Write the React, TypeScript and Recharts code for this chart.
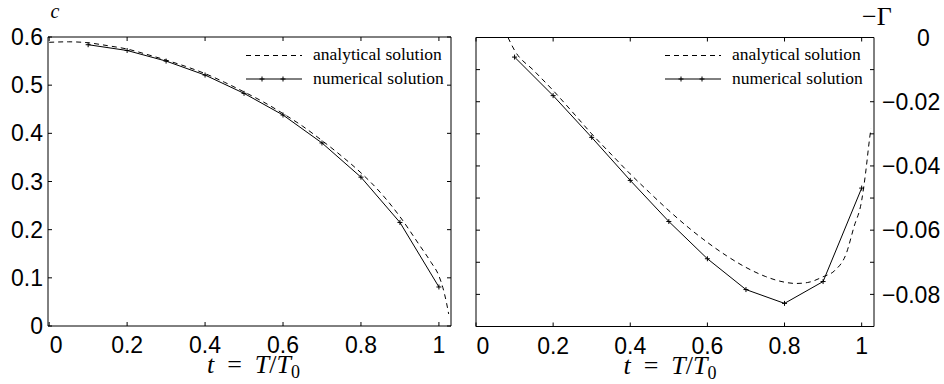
import { LineChart, Line, XAxis, YAxis, Legend, Label } from 'recharts';

// concentration c(t): numerical samples and the analytical curve
const tNum = [0.1, 0.2, 0.3, 0.4, 0.5, 0.6, 0.7, 0.8, 0.9, 1.0];
const cNum = [0.584, 0.572, 0.55, 0.521, 0.483, 0.438, 0.38, 0.309, 0.215, 0.081];
const tAnaC = [0, 0.05, 0.1, 0.15, 0.2, 0.25, 0.3, 0.35, 0.4, 0.45, 0.5, 0.55, 0.6, 0.65, 0.7, 0.75, 0.8, 0.85, 0.9, 0.95, 0.98, 1.0, 1.01, 1.02, 1.025];
const cAna = [0.589, 0.59, 0.588, 0.582, 0.575, 0.564, 0.552, 0.539, 0.524, 0.506, 0.486, 0.465, 0.441, 0.415, 0.385, 0.353, 0.318, 0.277, 0.227, 0.168, 0.132, 0.104, 0.08, 0.046, 0.025];

// -Gamma(t): numerical samples and the analytical curve
const gNum = [-0.0061, -0.0181, -0.0311, -0.0445, -0.0573, -0.0689, -0.0785, -0.0828, -0.076, -0.0469];
const tAnaG = [0.083, 0.1, 0.15, 0.2, 0.25, 0.3, 0.35, 0.4, 0.45, 0.5, 0.55, 0.6, 0.65, 0.7, 0.75, 0.8, 0.83, 0.86, 0.9, 0.93, 0.96, 0.98, 1.0, 1.01, 1.02, 1.024];
const gAna = [0, -0.004, -0.0103, -0.0165, -0.0232, -0.03, -0.0363, -0.0425, -0.0483, -0.0539, -0.0591, -0.0638, -0.068, -0.0716, -0.0744, -0.0762, -0.0766, -0.0763, -0.0745, -0.0726, -0.0673, -0.059, -0.0508, -0.0424, -0.032, -0.0284];

const tTicks = [0, 0.2, 0.4, 0.6, 0.8, 1];
const cTicks = [0, 0.1, 0.2, 0.3, 0.4, 0.5, 0.6];
const gTicks = [0, -0.01, -0.02, -0.03, -0.04, -0.05, -0.06, -0.07, -0.08, -0.09];

const INK = '#000';
const SANS = '"Liberation Sans", Arial, sans-serif';
const SERIF = '"Liberation Serif", "Times New Roman", serif';
const TICK_FONT = 23;

const zip = (xs: number[], ys: number[]) => xs.map((t, i) => ({ t, v: ys[i] }));
const fmt = (v: number) => String(v).replace('-', '\u2212');
const NoLabel = () => <g />;

function BottomTick({ x, y, payload }: any) {
  const v = payload.value;
  return (
    <text x={x + (v === 0 ? 7 : 0)} y={y} dy="0.71em" textAnchor="middle" fontFamily={SANS} fontSize={TICK_FONT} fill={INK}>
      {fmt(v)}
    </text>
  );
}

function LeftTick({ x, y, payload }: any) {
  return (
    <text x={x} y={y} dy="0.355em" textAnchor="end" fontFamily={SANS} fontSize={TICK_FONT} fill={INK}>
      {fmt(payload.value)}
    </text>
  );
}

// right-hand labels only every 0.02, the zero label sits further in
function RightTick({ x, y, payload }: any) {
  const v = payload.value;
  if (Math.round(Math.abs(v) * 100) % 2 !== 0) return <g />;
  return (
    <text x={x + (v === 0 ? 35 : 0)} y={y} dy="0.355em" textAnchor="start" fontFamily={SANS} fontSize={TICK_FONT} fill={INK}>
      {fmt(v)}
    </text>
  );
}

// "+" marker used by the numerical series
function Plus(props: any) {
  const { cx, cy, index } = props;
  return <path key={`p${index}`} d={`M${cx - 2.5},${cy}h5M${cx},${cy - 2.5}v5`} stroke={INK} strokeWidth={1} fill="none" />;
}

function Key() {
  return (
    <svg width={200} height={48} style={{ display: 'block', overflow: 'visible' }}>
      <line x1={0} y1={10.5} x2={56} y2={10.5} stroke={INK} strokeWidth={1} strokeDasharray="5 4" />
      <text x={67} y={15} fontFamily={SERIF} fontSize={17.5} fill={INK}>analytical solution</text>
      <line x1={0} y1={34} x2={56} y2={34} stroke={INK} strokeWidth={1} />
      <path d="M13.5,34h5M16,31.5v5M34.5,34h5M37,31.5v5" stroke={INK} strokeWidth={1} />
      <text x={67} y={38.5} fontFamily={SERIF} fontSize={17.5} fill={INK}>numerical solution</text>
    </svg>
  );
}

function TimeTitle({ viewBox, dx }: any) {
  const cx = viewBox.x + viewBox.width / 2 + dx;
  const by = viewBox.y + 47;
  return (
    <text x={cx} y={by} textAnchor="middle" fontFamily={SERIF} fontSize={26} fill={INK}>
      <tspan fontStyle="italic">t</tspan>
      <tspan>{'\u2002=\u2002'}</tspan>
      <tspan fontStyle="italic">T</tspan>
      <tspan>/</tspan>
      <tspan fontStyle="italic">T</tspan>
      <tspan fontSize={18} dy={5}>0</tspan>
    </text>
  );
}

const frameAxis = { stroke: INK, strokeWidth: 1 };

// each axis is 1px thick, so the margins sit 1px inside the plot box
function Panel({ left, width, margin, xDomain, yDomain, yTicks, ana, num, yRight, titleDx, legendLeft }: any) {
  return (
    <div style={{ position: 'absolute', left, top: 0 }}>
      <LineChart width={width} height={384} margin={margin}>
        <XAxis xAxisId="b" type="number" dataKey="t" domain={xDomain} allowDataOverflow
          ticks={tTicks} interval={0} height={1} tickSize={-4} tickMargin={15} axisLine={frameAxis} tickLine={frameAxis} tick={BottomTick}>
          <Label content={(p: any) => <TimeTitle {...p} dx={titleDx} />} />
        </XAxis>
        <XAxis xAxisId="t" orientation="top" type="number" dataKey="t" domain={xDomain} allowDataOverflow
          ticks={tTicks} interval={0} height={1} tickSize={-4} axisLine={frameAxis} tickLine={frameAxis} tick={NoLabel} />
        <YAxis yAxisId="l" type="number" domain={yDomain} allowDataOverflow ticks={yTicks} interval={0} width={1}
          tickSize={-4} tickMargin={9} axisLine={frameAxis} tickLine={frameAxis} tick={yRight ? NoLabel : LeftTick}>
          {!yRight && (
            <Label content={({ viewBox }: any) => (
              <text x={viewBox.x + 8} y={viewBox.y - 19} textAnchor="middle" fontFamily={SERIF} fontStyle="italic" fontSize={20} fill={INK}>c</text>
            )} />
          )}
        </YAxis>
        <YAxis yAxisId="r" orientation="right" type="number" domain={yDomain} allowDataOverflow ticks={yTicks} interval={0} width={1}
          tickSize={-4} tickMargin={12} axisLine={frameAxis} tickLine={frameAxis} tick={yRight ? RightTick : NoLabel}>
          {yRight && (
            <Label content={({ viewBox }: any) => (
              <text x={viewBox.x - 12} y={viewBox.y - 13} textAnchor="start" fontFamily={SERIF} fontSize={26} fill={INK}>{'\u2212\u0393'}</text>
            )} />
          )}
        </YAxis>
        <Line xAxisId="b" yAxisId="l" data={ana} dataKey="v" type="monotoneX" stroke={INK} strokeWidth={1}
          strokeDasharray="5 4" dot={false} activeDot={false} isAnimationActive={false} />
        <Line xAxisId="b" yAxisId="l" data={num} dataKey="v" type="linear" stroke={INK} strokeWidth={1}
          dot={Plus} activeDot={false} isAnimationActive={false} />
        <Legend layout="vertical" align="center" verticalAlign="middle" content={() => <Key />}
          wrapperStyle={{ position: 'absolute', left: legendLeft, top: 45, width: 200, height: 48 }} />
      </LineChart>
    </div>
  );
}

export default function App() {
  return (
    <div style={{ position: 'absolute', left: 0, top: 0, width: 944, height: 384, background: '#fff' }}>
      <Panel left={0} width={470} margin={{ top: 36, left: 47, right: 18, bottom: 57 }}
        xDomain={[-0.003, 1.031]} yDomain={[0, 0.6]} yTicks={cTicks} ana={zip(tAnaC, cAna)} num={zip(tNum, cNum)}
        yRight={false} titleDx={4} legendLeft={246} />
      <Panel left={470} width={474} margin={{ top: 36.5, left: 5, right: 69, bottom: 56.5 }}
        xDomain={[0, 1.032]} yDomain={[-0.09, 0]} yTicks={gTicks} ana={zip(tAnaG, gAna)} num={zip(tNum, gNum)}
        yRight={true} titleDx={-5} legendLeft={195} />
    </div>
  );
}
